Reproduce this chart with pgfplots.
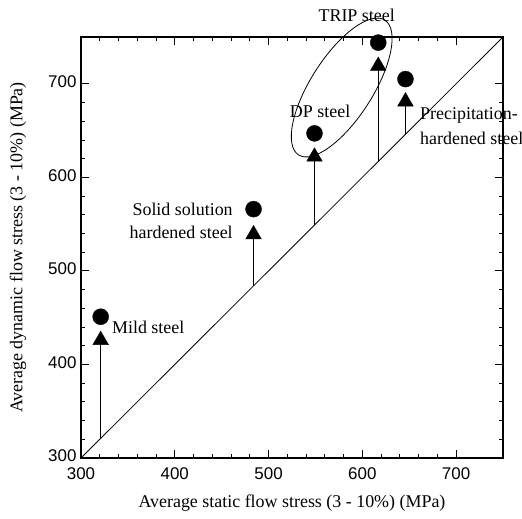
\documentclass[border=0pt]{standalone}
\usepackage{fontspec}
\setmainfont{Liberation Serif}
\newfontfamily\ticksans{Liberation Sans}
\usepackage{pgfplots}
\pgfplotsset{compat=1.18}
\usetikzlibrary{calc}

\begin{document}
\begin{tikzpicture}
\begin{axis}[
    scale only axis,
    width=422bp, height=421bp,
    xmin=300, xmax=750,
    ymin=300, ymax=750,
    xtick={300,400,...,700},
    ytick={300,400,...,700},
    minor tick num=4,
    major tick length=8bp,
    minor tick length=4.5bp,
    axis line style={line width=1.2bp},
    tick style={line width=0.8bp, black},
    clip=false,
    /pgf/number format/assume math mode=true,
    tick label style={font=\ticksans\fontsize{17}{17}\selectfont},
    xticklabel style={yshift=-6bp},
    yticklabel style={xshift=-1bp, yshift=2bp},
    label style={font=\fontsize{18}{18}\selectfont},
    xlabel={Average static flow stress (3 - 10\%) (MPa)},
    ylabel={Average dynamic flow stress (3 - 10\%) (MPa)},
    xlabel style={at={(axis description cs:0.5,-0.1069)}, anchor=center},
    ylabel style={at={(axis description cs:-0.1493,0.5)}, anchor=center},
]
    % y = x reference line
    \addplot[black, line width=0.8bp] coordinates {(300,300) (750,750)};

    % vertical rise from static to dynamic
    \addplot[black, line width=0.8bp] coordinates {(321,321) (321,426)};
    \addplot[black, line width=0.8bp] coordinates {(484,484) (484,539)};
    \addplot[black, line width=0.8bp] coordinates {(549,549) (549,622)};
    \addplot[black, line width=0.8bp] coordinates {(617,617) (617,719)};
    \addplot[black, line width=0.8bp] coordinates {(646,646) (646,681)};

    % triangles
    \addplot[only marks, mark=triangle*, mark size=9bp, black] coordinates {
        (321,426) (484,539) (549,622) (617,719) (646,681)
    };
    % circles
    \addplot[only marks, mark=*, mark size=8bp, black] coordinates {
        (321,451) (484,566) (549,647) (617,744) (646,705)
    };

    \draw[line width=0.8bp, rotate around={57.4:(axis cs:578,696)}]
        (axis cs:578,696) ellipse [x radius=80bp, y radius=31bp];

    \begin{scope}[every node/.style={font=\fontsize{18}{18}\selectfont, inner sep=0pt}]
    \node at (axis cs:594,773.5) {TRIP steel};
    \node at (axis cs:555,670) {DP steel};
    \node[anchor=west] at (axis cs:661.5,666.6) {Precipitation-};
    \node[anchor=west] at (axis cs:661.5,642) {hardened steel};
    \node[anchor=east] at (axis cs:462,566) {Solid solution};
    \node[anchor=east] at (axis cs:462,541.5) {hardened steel};
    \node[anchor=west] at (axis cs:333,440) {Mild steel};
    \end{scope}
\end{axis}
\pgfresetboundingbox
\path[use as bounding box]
    ($(current axis.origin)$) ++(-81bp,-61bp) rectangle ++(522bp,519bp);
\end{tikzpicture}
\end{document}
